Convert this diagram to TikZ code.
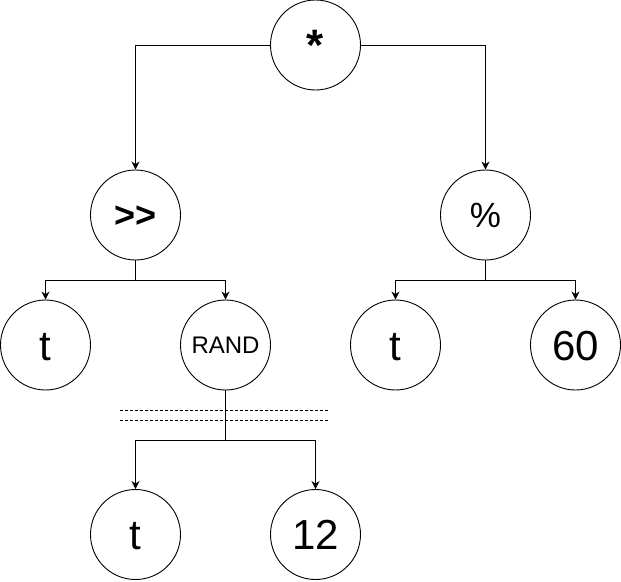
\documentclass[tikz,border=0pt]{standalone}
\usepackage{fontspec}
\setmainfont{Liberation Sans}
\usetikzlibrary{arrows.meta}
\begin{document}
\begin{tikzpicture}[x=1pt,y=-1pt,
  opnode/.style={circle,draw,line width=0.9pt,minimum size=90pt,inner sep=0pt},
  fs/.style={font=\fontsize{#1}{#1}\selectfont,
    text height=0.716*#1 pt,text depth=0pt},
  fsb/.style={font=\fontsize{#1}{#1}\selectfont\bfseries,
    text height=0.716*#1 pt,text depth=0pt},
  link/.style={line width=1pt},
  arr/.style={link,-{Stealth[length=8pt,width=8pt,inset=2.5pt]}},
  cut/.style={line width=0.8pt,dash pattern=on 3pt off 2pt}]
\useasboundingbox (0,0) rectangle (621,581);
% operator and leaf nodes
\node[opnode,fsb=44] (star) at (315.5,45) {*};
\node[opnode,fsb=36] (shr)  at (135.5,215) {>{}>};
\node[opnode,fs=35] (mod)  at (485.5,215) {\%};
\node[opnode,fs=42] (ta)   at (45.5,345) {t};
\node[opnode,fs=24] (rand) at (225.5,345) {RAND};
\node[opnode,fs=42] (tb)   at (395.5,345) {t};
\node[opnode,fs=42] (sixty) at (575.5,345) {60};
\node[opnode,fs=42] (tc)   at (135.5,534.5) {t};
\node[opnode,fs=42] (twelve) at (315.5,534.5) {12};
% branch points
\coordinate (j1) at (135.5,280);
\coordinate (j2) at (485.5,280);
\coordinate (j3) at (225.5,440);
% edges
\draw[arr] (star.west) -| (shr.north);
\draw[arr] (star.east) -| (mod.north);
\draw[link] (shr.south) -- (j1);
\draw[arr] (j1) -| (ta.north);
\draw[arr] (j1) -| (rand.north);
\draw[link] (mod.south) -- (j2);
\draw[arr] (j2) -| (tb.north);
\draw[arr] (j2) -| (sixty.north);
\draw[link] (rand.south) -- (j3);
\draw[arr] (j3) -| (tc.north);
\draw[arr] (j3) -| (twelve.north);
% cut marks across the RAND branch
\coordinate (c1a) at (120,410); \coordinate (c1b) at (328,410);
\coordinate (c2a) at (120,420); \coordinate (c2b) at (328,420);
\draw[cut] (c1a) -- (c1b);
\draw[cut] (c2a) -- (c2b);
\end{tikzpicture}
\end{document}
